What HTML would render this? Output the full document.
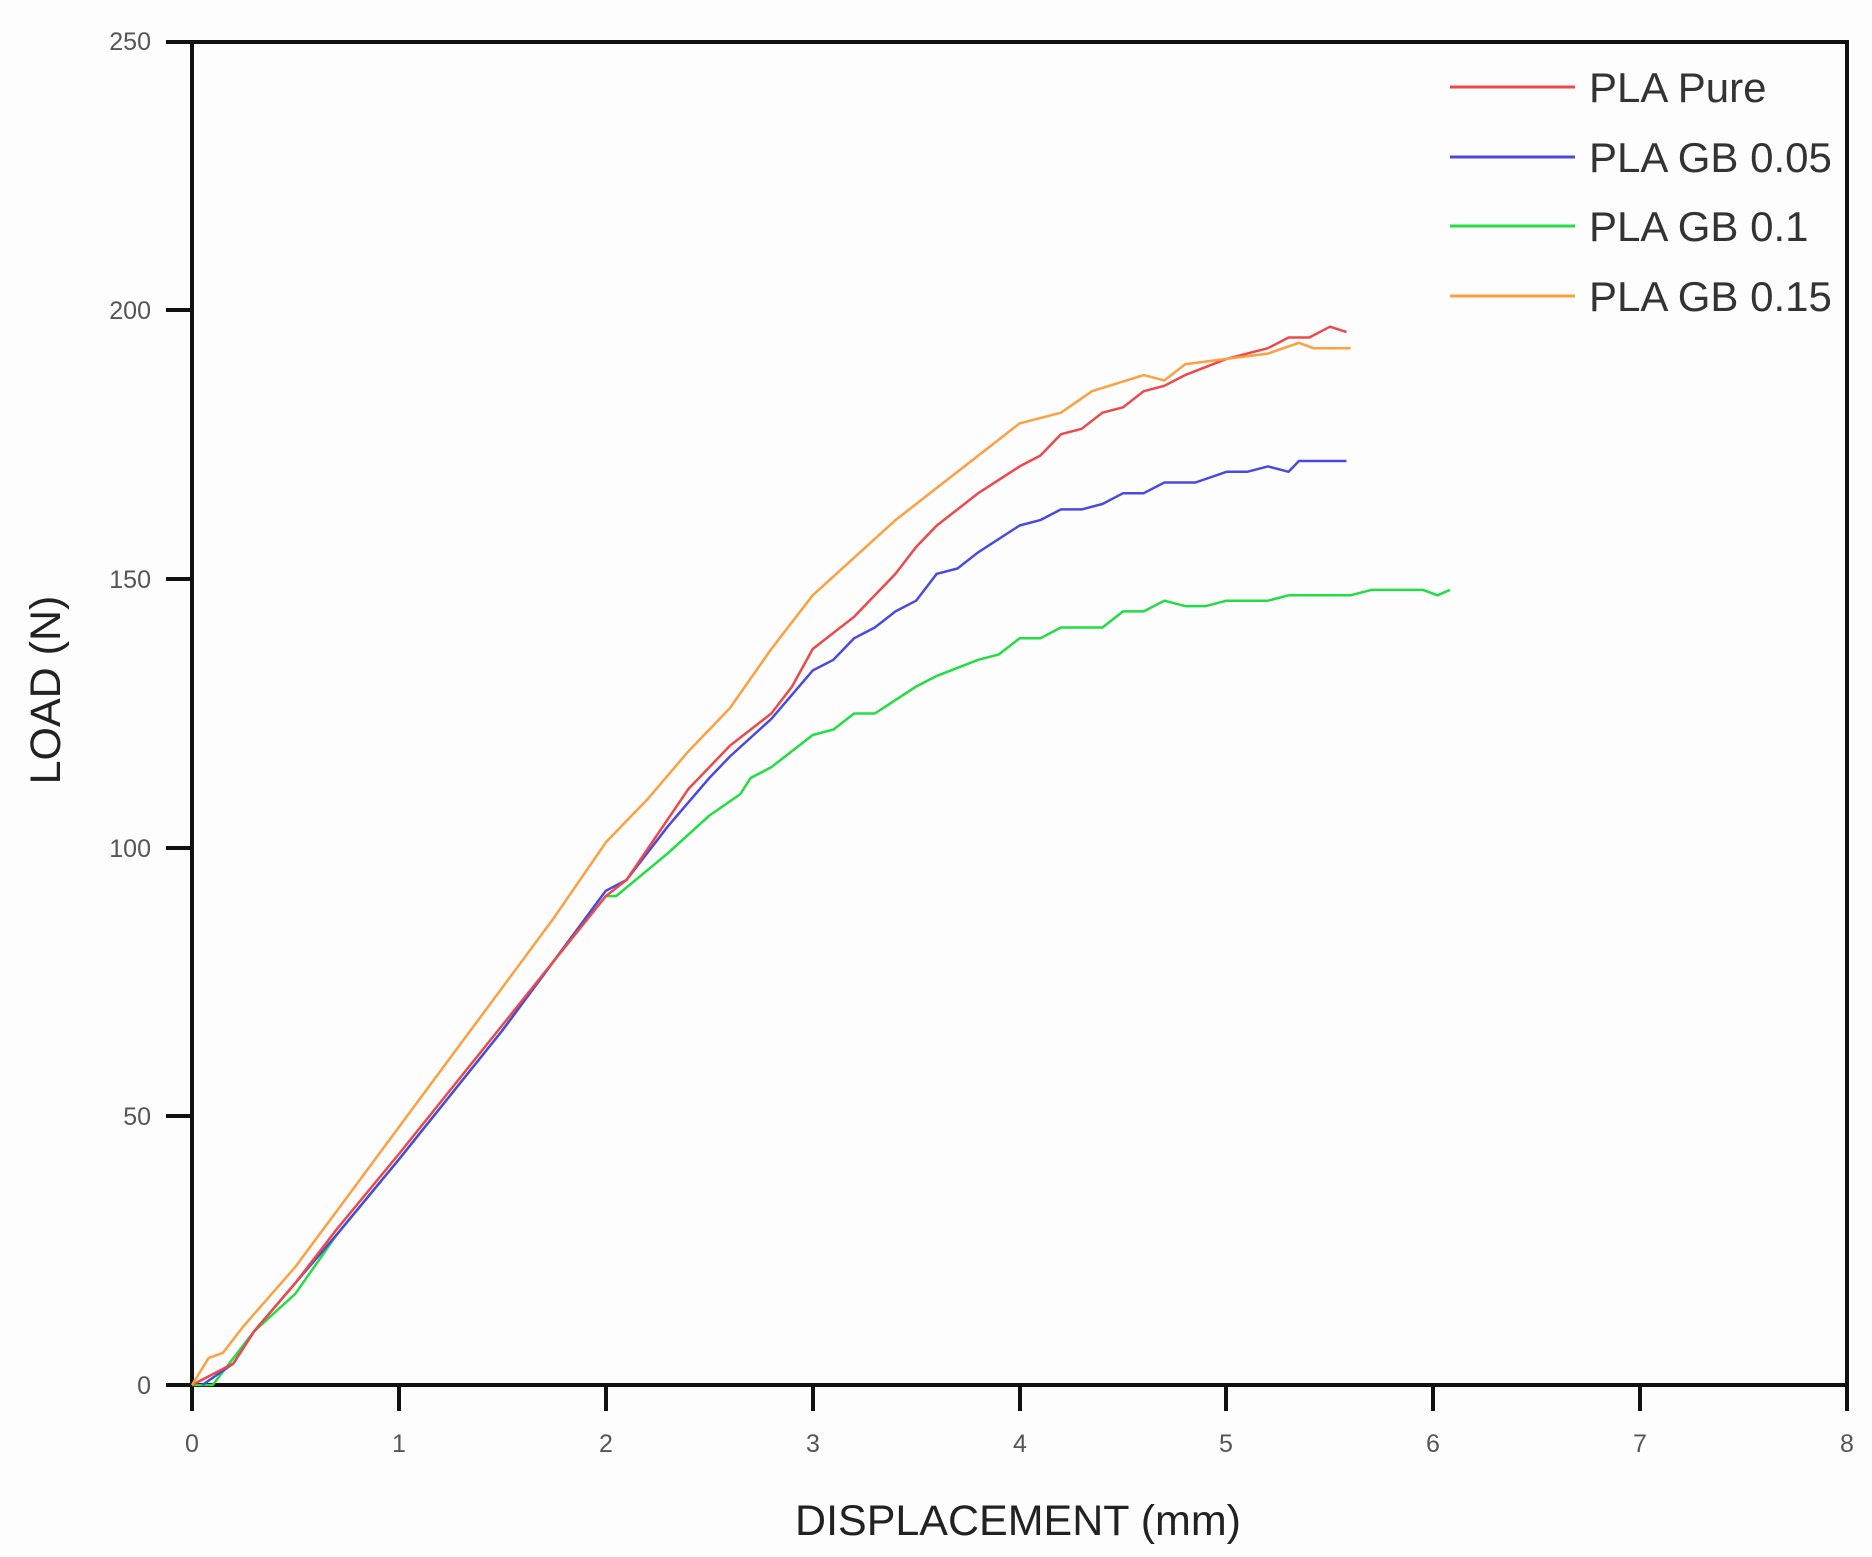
<!DOCTYPE html>
<html><head><meta charset="utf-8"><style>
html,body{margin:0;padding:0;background:#fdfdfd;}
svg{display:block;}
text{font-family:"Liberation Sans",sans-serif;}
</style></head><body>
<svg id="s" width="1872" height="1557" viewBox="0 0 1872 1557" xmlns="http://www.w3.org/2000/svg">
<rect width="1872" height="1557" fill="#fdfdfd"/>
<g stroke="#111" stroke-width="4" fill="none">
<path d="M166 42 H1847 V1385 H166 M192 42 V1411"/>
<path d="M166 310 H192 M166 579 H192 M166 848 H192 M166 1116 H192"/>
<path d="M399 1385 V1411 M606 1385 V1411 M813 1385 V1411 M1020 1385 V1411 M1226 1385 V1411 M1433 1385 V1411 M1640 1385 V1411 M1847 1385 V1411"/>
</g>
<g fill="#555" font-size="25" text-anchor="end">
<text x="151" y="50">250</text><text x="151" y="319">200</text><text x="151" y="588">150</text><text x="151" y="857">100</text><text x="151" y="1125">50</text><text x="151" y="1394">0</text>
</g>
<g fill="#555" font-size="25" text-anchor="middle">
<text x="192" y="1452">0</text><text x="399" y="1452">1</text><text x="606" y="1452">2</text><text x="813" y="1452">3</text><text x="1020" y="1452">4</text><text x="1226" y="1452">5</text><text x="1433" y="1452">6</text><text x="1640" y="1452">7</text><text x="1847" y="1452">8</text>
</g>
<text x="1018" y="1535" font-size="43" text-anchor="middle" fill="#222">DISPLACEMENT (mm)</text>
<text transform="translate(60,690) rotate(-90)" font-size="43" text-anchor="middle" fill="#222">LOAD (N)</text>
<g font-size="42" fill="#333">
<line x1="1450" y1="87" x2="1575" y2="87" stroke="#f04848" stroke-width="3"/><text x="1589" y="102">PLA Pure</text>
<line x1="1450" y1="157" x2="1575" y2="157" stroke="#4a4ae0" stroke-width="3"/><text x="1589" y="172">PLA GB 0.05</text>
<line x1="1450" y1="226" x2="1575" y2="226" stroke="#22dd44" stroke-width="3"/><text x="1589" y="241">PLA GB 0.1</text>
<line x1="1450" y1="296" x2="1575" y2="296" stroke="#ffa040" stroke-width="3"/><text x="1589" y="311">PLA GB 0.15</text>
</g>
<g id="series" fill="none" stroke-width="2.5" stroke-linejoin="round"></g>
</svg>
<script>
var X=function(x){return 192+x*206.9}, Y=function(y){return 1385-y*5.372};
var S=[
["#22dd44",[[0,0],[0.1,0],[0.3,10],[0.5,17],[0.7,28],[1.0,42],[1.5,66],[1.75,79],[2.0,91],[2.05,91],[2.3,99],[2.5,106],[2.65,110],[2.7,113],[2.8,115],[3,121],[3.1,122],[3.2,125],[3.3,125],[3.5,130],[3.6,132],[3.8,135],[3.9,136],[4,139],[4.1,139],[4.2,141],[4.4,141],[4.5,144],[4.6,144],[4.7,146],[4.8,145],[4.9,145],[5,146],[5.2,146],[5.3,147],[5.6,147],[5.7,148],[5.95,148],[6.02,147],[6.08,148]]],
["#4a4ae0",[[0.05,0],[0.2,4],[0.3,10],[0.5,19],[0.7,28],[1.0,42],[1.5,66],[2.0,92],[2.1,94],[2.3,104],[2.5,113],[2.6,117],[2.8,124],[3,133],[3.1,135],[3.2,139],[3.3,141],[3.4,144],[3.5,146],[3.6,151],[3.7,152],[3.8,155],[4,160],[4.1,161],[4.2,163],[4.3,163],[4.4,164],[4.5,166],[4.6,166],[4.7,168],[4.85,168],[5,170],[5.1,170],[5.2,171],[5.3,170],[5.35,172],[5.58,172]]],
["#f04848",[[0,0],[0.2,4],[0.3,10],[0.5,19],[0.7,29],[1.0,43],[1.5,67],[2.0,91],[2.1,94],[2.4,111],[2.5,115],[2.6,119],[2.7,122],[2.8,125],[2.9,130],[3,137],[3.1,140],[3.2,143],[3.3,147],[3.4,151],[3.5,156],[3.6,160],[3.7,163],[3.8,166],[4,171],[4.1,173],[4.2,177],[4.3,178],[4.4,181],[4.5,182],[4.6,185],[4.7,186],[4.8,188],[5,191],[5.1,192],[5.2,193],[5.3,195],[5.4,195],[5.5,197],[5.58,196]]],
["#ffa040",[[0,0],[0.08,5],[0.15,6],[0.25,11],[0.5,22],[0.75,35],[1.0,48],[1.25,61],[1.5,74],[1.75,87],[2.0,101],[2.2,109],[2.4,118],[2.6,126],[2.8,137],[3,147],[3.2,154],[3.4,161],[3.6,167],[3.8,173],[4,179],[4.2,181],[4.35,185],[4.6,188],[4.7,187],[4.8,190],[5,191],[5.2,192],[5.35,194],[5.42,193],[5.5,193],[5.6,193]]]
];
var g=document.getElementById('series');
S.forEach(function(s){
 var pts=s[1].map(function(p){return X(p[0]).toFixed(1)+","+Y(p[1]).toFixed(1);}).join(" ");
 var pl=document.createElementNS("http://www.w3.org/2000/svg","polyline");
 pl.setAttribute("points",pts);pl.setAttribute("stroke",s[0]);g.appendChild(pl);
});
</script>
</body></html>
